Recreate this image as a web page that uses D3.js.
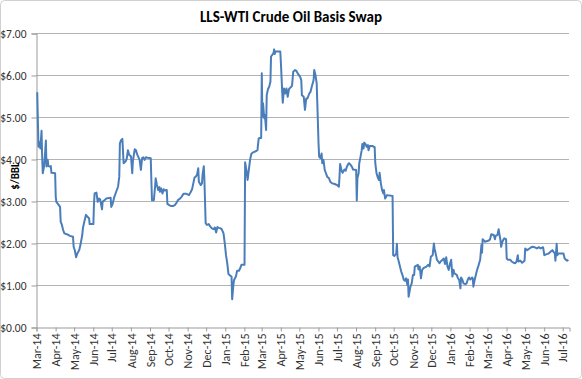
<!DOCTYPE html>
<html><head><meta charset="utf-8">
<script src="https://cdn.jsdelivr.net/npm/d3@7"></script>
<style>
html,body{margin:0;padding:0;background:#fff;}
svg{display:block;}
</style></head>
<body>
<svg id="chart" width="582" height="379"></svg>
<script>
const title = "LLS-WTI Crude Oil Basis Swap";
const yAxisTitle = "$/BBL";
const yTickValues = [0, 1, 2, 3, 4, 5, 6, 7];
const xDomain = ["2014-03-01", "2016-07-12"];

const dates = [
"2014-03-03","2014-03-05","2014-03-07","2014-03-08","2014-03-10","2014-03-11","2014-03-12","2014-03-14","2014-03-15","2014-03-17",
"2014-03-18","2014-03-20","2014-03-21","2014-03-23","2014-03-25","2014-03-26","2014-04-01","2014-04-02","2014-04-03","2014-04-07",
"2014-04-09","2014-04-10","2014-04-12","2014-04-14","2014-04-16","2014-04-20","2014-04-25","2014-04-30","2014-05-01","2014-05-03",
"2014-05-05","2014-05-07","2014-05-10","2014-05-12","2014-05-15","2014-05-16","2014-05-19","2014-05-21","2014-05-23","2014-05-26",
"2014-05-27","2014-06-02","2014-06-03","2014-06-04","2014-06-07","2014-06-09","2014-06-11","2014-06-13","2014-06-16","2014-06-17",
"2014-06-20","2014-06-23","2014-06-30","2014-07-01","2014-07-03","2014-07-06","2014-07-09","2014-07-12","2014-07-14","2014-07-15",
"2014-07-17","2014-07-19","2014-07-21","2014-07-24","2014-07-26","2014-07-28","2014-07-30","2014-08-02","2014-08-04","2014-08-05",
"2014-08-08","2014-08-10","2014-08-12","2014-08-16","2014-08-18","2014-08-20","2014-08-22","2014-08-24","2014-08-26","2014-08-29",
"2014-09-03","2014-09-04","2014-09-05","2014-09-08","2014-09-10","2014-09-11","2014-09-13","2014-09-15","2014-09-17","2014-09-18",
"2014-09-20","2014-09-22","2014-09-24","2014-09-26","2014-09-29","2014-09-30","2014-10-03","2014-10-06","2014-10-09","2014-10-12",
"2014-10-15","2014-10-17","2014-10-20","2014-10-23","2014-10-26","2014-10-31","2014-11-04","2014-11-07","2014-11-09","2014-11-11",
"2014-11-13","2014-11-15","2014-11-17","2014-11-19","2014-11-20","2014-11-23","2014-11-25","2014-11-26","2014-11-28","2014-11-29",
"2014-12-01","2014-12-03","2014-12-06","2014-12-08","2014-12-11","2014-12-14","2014-12-16","2014-12-18","2014-12-20","2014-12-22",
"2014-12-25","2014-12-27","2014-12-30","2015-01-01","2015-01-03","2015-01-05","2015-01-07","2015-01-10","2015-01-12","2015-01-13",
"2015-01-15","2015-01-16","2015-01-19","2015-01-21","2015-01-24","2015-01-26","2015-01-28","2015-02-02","2015-02-03","2015-02-05",
"2015-02-07","2015-02-09","2015-02-11","2015-02-13","2015-02-15","2015-02-18","2015-02-21","2015-02-23","2015-02-25","2015-02-27",
"2015-03-01","2015-03-02","2015-03-03","2015-03-04","2015-03-06","2015-03-07","2015-03-09","2015-03-10","2015-03-12","2015-03-14",
"2015-03-16","2015-03-17","2015-03-19","2015-03-21","2015-03-22","2015-03-23","2015-03-24","2015-04-01","2015-04-02","2015-04-04",
"2015-04-05","2015-04-07","2015-04-09","2015-04-11","2015-04-13","2015-04-15","2015-04-18","2015-04-20","2015-04-22","2015-04-25",
"2015-04-27","2015-04-30","2015-05-03","2015-05-05","2015-05-06","2015-05-09","2015-05-11","2015-05-13","2015-05-15","2015-05-18",
"2015-05-20","2015-05-22","2015-05-25","2015-05-26","2015-05-28","2015-05-30","2015-05-31","2015-06-02","2015-06-03","2015-06-05",
"2015-06-07","2015-06-08","2015-06-10","2015-06-12","2015-06-14","2015-06-16","2015-06-19","2015-06-21","2015-06-24","2015-06-27",
"2015-07-02","2015-07-05","2015-07-06","2015-07-07","2015-07-09","2015-07-11","2015-07-14","2015-07-16","2015-07-18","2015-07-21",
"2015-07-23","2015-07-26","2015-07-28","2015-08-02","2015-08-03","2015-08-04","2015-08-06","2015-08-07","2015-08-09","2015-08-11",
"2015-08-12","2015-08-14","2015-08-15","2015-08-17","2015-08-19","2015-08-21","2015-08-22","2015-08-24","2015-08-28","2015-09-01",
"2015-09-02","2015-09-04","2015-09-06","2015-09-08","2015-09-09","2015-09-11","2015-09-13","2015-09-15","2015-09-16","2015-09-18",
"2015-09-21","2015-09-30","2015-10-01","2015-10-03","2015-10-06","2015-10-07","2015-10-08","2015-10-10","2015-10-12","2015-10-14",
"2015-10-16","2015-10-18","2015-10-20","2015-10-22","2015-10-24","2015-10-25","2015-10-26","2015-10-27","2015-10-29","2015-10-31",
"2015-11-02","2015-11-04","2015-11-05","2015-11-10","2015-11-11","2015-11-13","2015-11-15","2015-11-17","2015-11-19","2015-11-24",
"2015-11-27","2015-11-29","2015-12-01","2015-12-04","2015-12-06","2015-12-07","2015-12-10","2015-12-11","2015-12-13","2015-12-15",
"2015-12-17","2015-12-20","2015-12-22","2015-12-24","2015-12-26","2015-12-28","2015-12-30","2016-01-01","2016-01-03","2016-01-05",
"2016-01-07","2016-01-08","2016-01-12","2016-01-14","2016-01-16","2016-01-18","2016-01-19","2016-01-21","2016-01-23","2016-01-26",
"2016-01-28","2016-01-30","2016-02-01","2016-02-03","2016-02-06","2016-02-07","2016-02-08","2016-02-10","2016-02-12","2016-02-14",
"2016-02-16","2016-02-19","2016-02-21","2016-02-22","2016-02-23","2016-02-27","2016-03-04","2016-03-06","2016-03-08","2016-03-12",
"2016-03-14","2016-03-15","2016-03-18","2016-03-20","2016-03-21","2016-03-23","2016-03-24","2016-03-26","2016-03-28","2016-03-29",
"2016-04-01","2016-04-02","2016-04-04","2016-04-08","2016-04-10","2016-04-13","2016-04-16","2016-04-18","2016-04-20","2016-04-21",
"2016-04-24","2016-04-27","2016-05-01","2016-05-02","2016-05-05","2016-05-07","2016-05-09","2016-05-12","2016-05-14","2016-05-17",
"2016-05-21","2016-05-24","2016-05-27","2016-05-31","2016-06-02","2016-06-07","2016-06-09","2016-06-12","2016-06-15","2016-06-17",
"2016-06-19","2016-06-20","2016-06-22","2016-06-23","2016-06-25","2016-07-03","2016-07-05","2016-07-07","2016-07-09","2016-07-11"
];

const values = [
5.59,4.29,4.40,4.25,4.67,4.05,3.66,3.82,3.98,4.44,
3.82,3.98,3.83,3.82,3.83,3.67,3.66,3.10,2.98,2.90,
2.86,2.51,2.43,2.31,2.23,2.21,2.17,2.15,1.91,1.82,
1.66,1.75,1.83,1.95,2.19,2.35,2.55,2.67,2.63,2.59,
2.45,2.45,2.94,3.18,3.20,2.98,3.06,3.04,2.80,2.98,
3.02,3.06,3.08,2.86,2.92,3.10,3.22,3.34,3.58,4.37,
4.45,4.48,3.90,3.94,4.00,4.21,4.10,4.06,3.66,3.94,
4.23,4.21,4.11,3.98,3.74,4.02,4.04,3.98,4.04,4.03,
4.02,3.50,3.02,3.02,3.34,3.54,3.38,3.26,3.33,3.22,
3.30,3.18,3.28,3.25,3.26,2.93,2.90,2.88,2.88,2.90,
2.96,3.02,3.05,3.10,3.17,3.17,3.14,3.22,3.28,3.42,
3.56,3.58,3.62,3.78,3.46,3.38,3.42,3.62,3.83,3.50,
2.47,2.43,2.45,2.40,2.35,2.33,2.37,2.25,2.38,2.36,
2.35,2.33,2.23,1.99,1.71,1.52,1.26,1.22,1.20,0.66,
1.00,1.12,1.20,1.34,1.34,1.40,1.48,1.48,3.92,3.74,
3.50,3.74,3.98,4.12,4.15,4.17,4.19,4.21,4.49,4.50,
4.50,6.04,5.01,5.33,4.97,5.05,4.69,5.52,5.66,5.72,
5.84,6.44,6.48,6.52,6.61,6.50,6.56,6.56,6.28,5.64,
5.34,5.68,5.56,5.68,5.48,5.66,5.71,5.74,6.08,6.12,
6.10,6.02,5.96,5.88,5.52,5.48,5.17,5.44,5.44,5.56,
5.60,5.72,5.88,6.12,6.00,5.80,5.33,4.37,4.05,4.02,
4.13,3.90,3.98,3.74,3.66,3.58,3.54,3.46,3.42,3.41,
3.38,3.34,3.58,3.88,3.74,3.67,3.75,3.72,3.82,3.90,
3.88,3.82,3.75,3.74,3.01,3.54,3.66,3.90,4.05,4.21,
4.36,4.25,4.39,4.36,4.29,4.33,4.21,4.31,4.31,4.28,
3.90,3.66,3.56,3.50,3.67,3.42,3.26,3.18,3.26,3.06,
3.14,3.12,1.71,1.69,1.75,1.98,1.67,1.56,1.44,1.32,
1.24,1.13,1.10,1.16,1.00,1.13,0.72,0.80,0.96,1.04,
1.24,1.24,1.44,1.48,1.37,1.44,1.16,1.36,1.40,1.44,
1.48,1.44,1.67,1.71,1.99,1.87,1.67,1.60,1.56,1.52,
1.56,1.60,1.63,1.50,1.66,1.44,1.36,1.50,1.60,1.20,
1.36,1.28,1.24,1.16,1.12,0.92,1.18,1.13,1.04,1.02,
1.04,1.13,1.18,1.13,1.18,1.16,0.96,1.12,1.24,1.36,
1.45,1.60,1.95,1.77,2.09,2.03,2.06,2.09,2.21,2.19,
2.09,2.17,2.19,2.33,2.23,2.06,1.91,2.03,2.09,2.11,
2.09,1.63,1.60,1.60,1.56,1.53,1.52,1.56,1.71,1.56,
1.58,1.53,1.58,1.87,1.83,1.85,1.87,1.90,1.91,1.90,
1.87,1.90,1.87,1.90,1.71,1.74,1.75,1.79,1.83,1.79,
1.75,1.58,1.98,1.71,1.75,1.75,1.63,1.60,1.58,1.60
];

const W = 582, H = 379;
const margin = {left: 36, right: 13, top: 33, bottom: 52};
const FONT = "Carlito, Calibri, Lato, 'Liberation Sans', sans-serif";
const parse = d3.utcParse("%Y-%m-%d");
const data = dates.map((d, i) => ({date: parse(d), value: values[i]}));

const svg = d3.select("#chart");
svg.append("rect").attr("x", 0.5).attr("y", 0.5).attr("width", W - 1).attr("height", H - 1)
  .attr("rx", 4).attr("fill", "#fff").attr("stroke", "#d0d0d0");

const x = d3.scaleUtc().domain(xDomain.map(parse)).range([margin.left, W - margin.right]);
const y = d3.scaleLinear().domain([0, 7]).range([H - margin.bottom, margin.top]);

// gridlines
svg.append("g").selectAll("line").data(yTickValues.filter(v => v > 0)).join("line")
  .attr("x1", margin.left).attr("x2", W - margin.right)
  .attr("y1", d => Math.round(y(d)) + 0.5).attr("y2", d => Math.round(y(d)) + 0.5)
  .attr("stroke", "#b3b3b3").attr("stroke-width", 1);

// y axis
const yAxis = svg.append("g").attr("transform", `translate(${margin.left + 0.5},0.5)`)
  .call(d3.axisLeft(y).tickValues(yTickValues).tickFormat(d => "$" + d.toFixed(2)).tickSize(5).tickPadding(5));
yAxis.select(".domain").attr("stroke", "#9a9a9a");
yAxis.selectAll(".tick line").attr("stroke", "#9a9a9a");
yAxis.selectAll("text").attr("font-family", FONT).attr("font-size", 11.5).attr("fill", "#333");

// x axis
const xAxis = svg.append("g").attr("transform", `translate(0.5,${Math.round(y(0)) + 0.5})`)
  .call(d3.axisBottom(x).ticks(d3.utcMonth.every(1)).tickFormat(d3.utcFormat("%b-%y")).tickSize(4));
xAxis.select(".domain").attr("stroke", "#9a9a9a");
xAxis.selectAll(".tick line").attr("stroke", "#9a9a9a");
xAxis.selectAll("text").attr("font-family", FONT).attr("font-size", 12).attr("fill", "#333")
  .attr("transform", "rotate(-90)").attr("x", -6).attr("y", 0).attr("dy", "0.35em")
  .attr("text-anchor", "end");

// line
svg.append("path").datum(data)
  .attr("d", d3.line().x(d => x(d.date)).y(d => y(d.value)))
  .attr("fill", "none").attr("stroke", "#4a7ebb").attr("stroke-width", 2).attr("stroke-linejoin", "round");

// title
svg.append("text").attr("x", 291).attr("y", 22).attr("text-anchor", "middle")
  .attr("font-family", FONT).attr("font-size", 15).attr("font-weight", "bold").attr("fill", "#000")
  .text(title);

// y axis title
svg.append("text").attr("transform", `translate(19,176) rotate(-90)`)
  .attr("text-anchor", "middle").attr("font-family", FONT).attr("font-size", 11).attr("font-weight", "bold")
  .attr("fill", "#000").text(yAxisTitle);
</script>
</body></html>
